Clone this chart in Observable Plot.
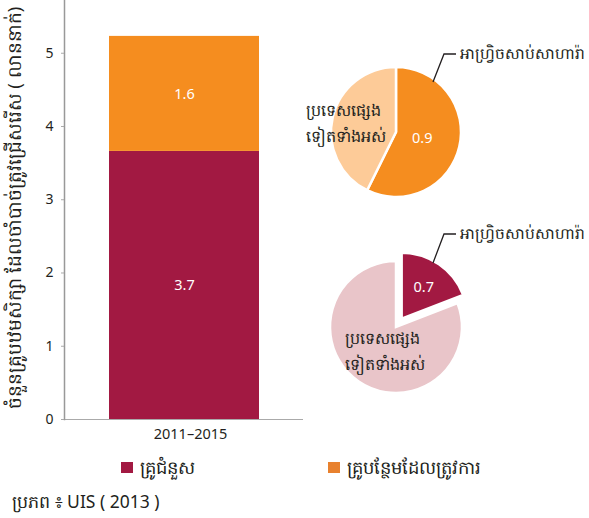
<!DOCTYPE html>
<html><head><meta charset="utf-8">
<script src="https://cdn.jsdelivr.net/npm/d3@7"></script>
<script src="https://cdn.jsdelivr.net/npm/@observablehq/plot@0.6"></script>
<style>
body{margin:0;background:#fff;font-family:"Noto Sans","Open Sans",sans-serif;color:#231f20;}
#wrap{position:relative;width:589px;height:518px;overflow:hidden;}
#chart{position:absolute;left:0;top:0;}
.leg{position:absolute;font-size:18px;line-height:20px;white-space:nowrap;}
.sw{position:absolute;width:12px;height:11px;}
#cap{position:absolute;left:12px;top:490px;font-size:17.5px;line-height:22px;white-space:nowrap;}
</style></head><body><div id="wrap"><div id="chart"></div></div>
<script>
const period = ["2011–2015"];
const series = ["គ្រូជំនួស", "គ្រូបន្ថែមដែលត្រូវការ"];
const barValues = [3.66, 1.57];
const seriesColors = ["#A21942", "#F58D1F"];
const legendColors = ["#A21942", "#E8812E"];
const yTicks = [0, 1, 2, 3, 4, 5];
const yTitle = "ចំនួនគ្រូបឋមសិក្សា ដែលចាំបាច់ត្រូវជ្រើសរើស ( លាននាក់)";
const regions = ["អាហ្វ្រិចសាប់សាហារ៉ា", "ប្រទេសផ្សេងទៀតទាំងអស់"];
const otherLines = ["ប្រទេសផ្សេង", "ទៀតទាំងអស់"];
const additionalPie = [0.9, 0.67];
const replacementPie = [0.7, 2.96];
const caption = "ប្រភព ៖ UIS ( 2013 )";

const barData = series.map((s, i) => ({period: period[0], series: s, value: barValues[i]}));

function pieMark(values, colors, cx, cy, r, explode, labelR, leader, other) {
  return (index, scales, vals, dims, context) => {
    const g = d3.create("svg:g").attr("text-anchor", "start");
    const arcs = d3.pie().sort(null)(values);
    const arc = d3.arc().innerRadius(0).outerRadius(r);
    arcs.forEach((a, i) => {
      const mid = (a.startAngle + a.endAngle) / 2;
      const off = i === 0 ? explode : 0;
      g.append("path")
        .attr("d", arc(a))
        .attr("transform", `translate(${cx + off * Math.sin(mid)},${cy - off * Math.cos(mid)})`)
        .attr("fill", colors[i])
        .attr("stroke", "#fff")
        .attr("stroke-width", 2.5);
    });
    const a0 = arcs[0];
    const m0 = (a0.startAngle + a0.endAngle) / 2;
    g.append("text")
      .attr("x", cx + labelR * Math.sin(m0))
      .attr("y", cy - labelR * Math.cos(m0))
      .attr("dy", "0.35em")
      .attr("text-anchor", "middle")
      .attr("fill", "#fff")
      .attr("font-size", 14.5)
      .text(values[0].toFixed(1));
    const x0 = cx + leader[0], y0 = cy + leader[1];
    g.append("path")
      .attr("d", `M${x0},${y0}L${x0 + 11},${y0 - leader[2]}L${x0 + 23},${y0 - leader[2]}`)
      .attr("fill", "none").attr("stroke", "#231f20").attr("stroke-width", 1.3);
    g.append("text")
      .attr("x", x0 + 27).attr("y", y0 - leader[2]).attr("dy", "0.35em")
      .attr("font-size", 15.5).attr("fill", "#231f20")
      .text(regions[0]);
    otherLines.forEach((t, k) => {
      g.append("text")
        .attr("x", other[0]).attr("y", other[1] + k * 26).attr("dy", "0.35em")
        .attr("font-size", 16).attr("fill", "#231f20")
        .text(t);
    });
    return g.node();
  };
}

const chart = Plot.plot({
  width: 589, height: 450,
  marginLeft: 64, marginRight: 286, marginTop: 0, marginBottom: 31,
  style: {fontFamily: "'Noto Sans','Open Sans',sans-serif", color: "#231f20", background: "white"},
  x: {domain: period, padding: 0.2288},
  y: {domain: [0, 5.72]},
  color: {domain: series, range: seriesColors},
  marks: [
    Plot.barY(barData, Plot.stackY({x: "period", y: "value", fill: "series"})),
    Plot.text(barData, Plot.stackY({x: "period", y: "value", text: d => d.value.toFixed(1), fill: "white", fontSize: 14.5})),
    Plot.ruleY([0], {stroke: "#aaa", strokeWidth: 1.2}),
    Plot.frame({anchor: "left", stroke: "#999", strokeWidth: 1.5}),
    Plot.axisY({ticks: yTicks, tickFormat: d3.format("d"), tickSize: 3, tickPadding: 8, fontSize: 14, label: null, stroke: "#aaa", fill: "#231f20"}),
    Plot.axisX({tickSize: 0, tickPadding: 9, fontSize: 14.5, label: null, dx: 6, fill: "#231f20"}),
    Plot.text([yTitle], {frameAnchor: "left", textAnchor: "middle", rotate: -90, dx: -49, dy: -2, fontSize: 18.5, fill: "#231f20"}),
    pieMark(additionalPie, ["#F58D1F", "#FDCB98"], 396, 132, 65, 0, 27, [37, -50, 28], [306, 110]),
    pieMark(replacementPie, ["#A21942", "#E9C5C9"], 396, 327, 66, 10, 49, [37, -64, 29], [345, 338])
  ]
});
document.getElementById("chart").append(chart);

const wrap = document.getElementById("wrap");
const legPos = [[121, 140], [328, 347]];
series.forEach((s, i) => {
  const sw = document.createElement("div");
  sw.className = "sw";
  sw.style.left = legPos[i][0] + "px"; sw.style.top = "462px";
  sw.style.background = legendColors[i];
  wrap.append(sw);
  const t = document.createElement("div");
  t.className = "leg";
  t.style.left = legPos[i][1] + "px"; t.style.top = "457px";
  t.textContent = s;
  wrap.append(t);
});
const cap = document.createElement("div");
cap.id = "cap"; cap.textContent = caption;
wrap.append(cap);
</script></body></html>
